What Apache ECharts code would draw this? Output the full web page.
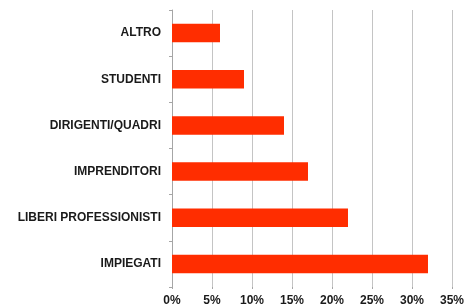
<!DOCTYPE html>
<html>
<head>
<meta charset="utf-8">
<script src="https://cdn.jsdelivr.net/npm/echarts@6/dist/echarts.min.js"></script>
<style>
  html, body { margin: 0; padding: 0; background: #fff; }
  #chart { width: 467px; height: 308px; }
</style>
</head>
<body>
<div id="chart"></div>
<script>
// categories top to bottom
const categories = ['ALTRO', 'STUDENTI', 'DIRIGENTI/QUADRI', 'IMPRENDITORI', 'LIBERI PROFESSIONISTI', 'IMPIEGATI']
const values = [6, 9, 14, 17, 22, 32]
const xTicks = [0, 5, 10, 15, 20, 25, 30, 35]

const chart = echarts.init(document.getElementById('chart'))
chart.setOption({
    animation: false,
    grid: { left: 172, right: 14, top: 10, bottom: 21 },
    xAxis: {
        type: 'value',
        min: xTicks[0],
        max: xTicks[xTicks.length - 1],
        interval: 5,
        axisLine: { show: false },
        axisTick: { show: true, length: 2, lineStyle: { color: '#a6a6a6' } },
        splitLine: { show: true, lineStyle: { color: '#c4c4c4', width: 1 } },
        axisLabel: {
            formatter: '{value}%',
            color: '#1a1a1a',
            fontFamily: 'Liberation Sans, Arial, sans-serif',
            fontWeight: 'bold',
            fontSize: 12,
            margin: 8
        }
    },
    yAxis: {
        type: 'category',
        inverse: true,
        data: categories,
        axisLine: { show: true, lineStyle: { color: '#a6a6a6' } },
        axisTick: { show: true, length: 3, lineStyle: { color: '#a6a6a6' } },
        axisLabel: {
            color: '#1a1a1a',
            fontFamily: 'Liberation Sans, Arial, sans-serif',
            fontWeight: 'bold',
            fontSize: 12,
            margin: 11
        }
    },
    series: [{
        type: 'bar',
        data: values,
        barWidth: '40%',
        itemStyle: { color: '#ff2d00' }
    }]
})
</script>
</body>
</html>
